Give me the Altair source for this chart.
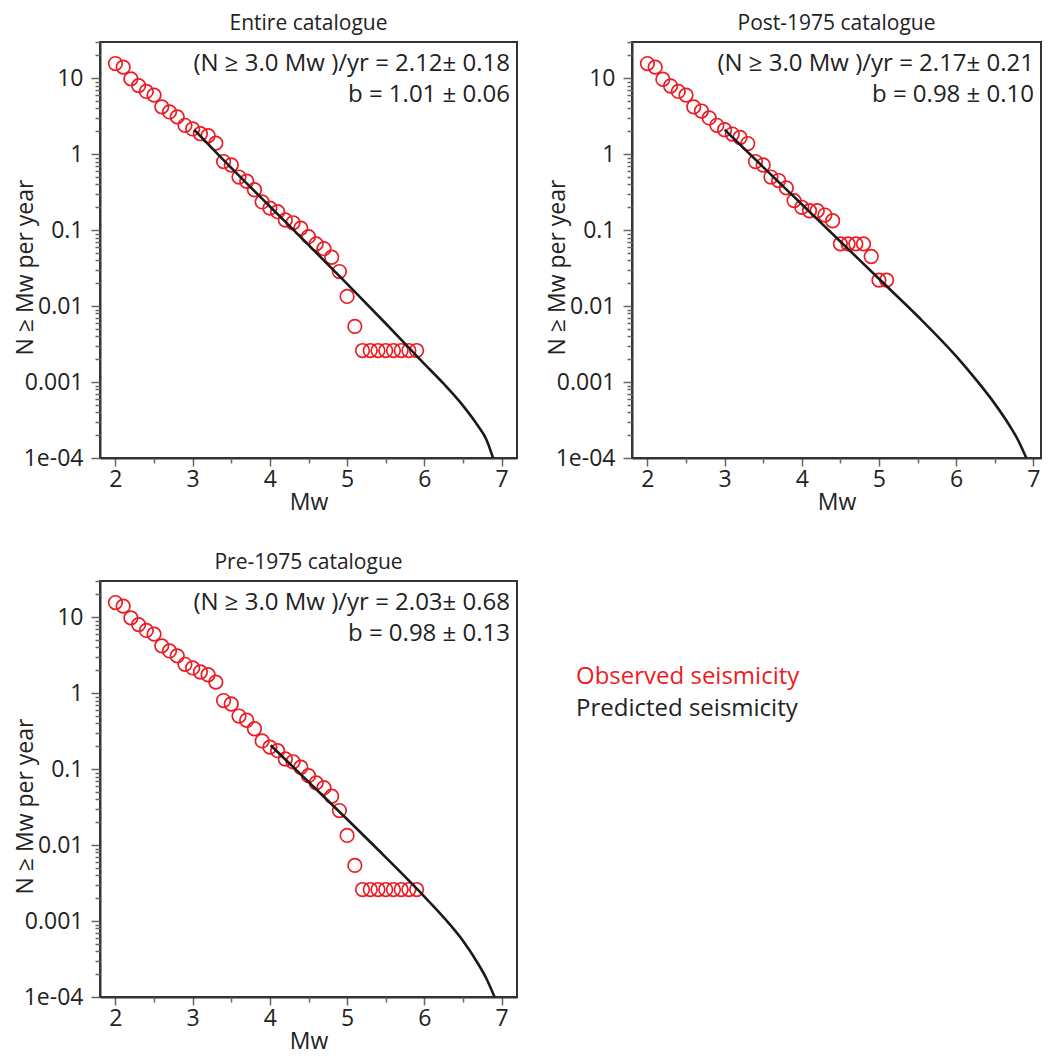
import altair as alt
import pandas as pd

FONT = "Open Sans"
RED = "#ed1c24"
INK = "#222222"

# ---------------- data ----------------
# Entire catalogue - observed cumulative rates
mw_entire = [2.0, 2.1, 2.2, 2.3, 2.4, 2.5, 2.6, 2.7, 2.8, 2.9,
             3.0, 3.1, 3.2, 3.3, 3.4, 3.5, 3.6, 3.7, 3.8, 3.9,
             4.0, 4.1, 4.2, 4.3, 4.4, 4.5, 4.6, 4.7, 4.8, 4.9,
             5.0, 5.1, 5.2, 5.3, 5.4, 5.5, 5.6, 5.7, 5.8, 5.9]
n_entire = [15.6, 14.0, 9.8, 8.0, 6.7, 6.0, 4.2, 3.6, 3.1, 2.4,
            2.15, 1.86, 1.75, 1.40, 0.80, 0.72, 0.50, 0.44, 0.34, 0.235,
            0.195, 0.175, 0.136, 0.125, 0.106, 0.082, 0.066, 0.057, 0.044, 0.0285,
            0.0134, 0.0054, 0.0026, 0.0026, 0.0026, 0.0026, 0.0026, 0.0026, 0.0026, 0.0026]
# Entire catalogue - predicted
mw_pred_entire = [3.02, 3.5, 4.0, 4.5, 5.0, 5.5, 6.0, 6.25, 6.5, 6.7, 6.8, 6.89]
n_pred_entire = [2.1, 0.66, 0.205, 0.064, 0.0196, 0.0059, 0.00174, 0.00095, 0.00049, 0.00026, 0.000178, 0.0001]

# Post-1975 catalogue - observed
mw_post = [2.0, 2.1, 2.2, 2.3, 2.4, 2.5, 2.6, 2.7, 2.8, 2.9,
           3.0, 3.1, 3.2, 3.3, 3.4, 3.5, 3.6, 3.7, 3.8, 3.9,
           4.0, 4.1, 4.2, 4.3, 4.4, 4.5, 4.6, 4.7, 4.8, 4.9,
           5.0, 5.1]
n_post = [15.6, 14.0, 9.7, 7.9, 6.7, 6.0, 4.2, 3.7, 3.0, 2.4,
          2.1, 1.84, 1.66, 1.38, 0.80, 0.72, 0.50, 0.45, 0.36, 0.245,
          0.20, 0.18, 0.18, 0.158, 0.133, 0.066, 0.066, 0.066, 0.066, 0.045,
          0.022, 0.022]
# Post-1975 catalogue - predicted
mw_pred_post = [3.0, 3.5, 4.0, 4.5, 5.0, 5.5, 6.0, 6.25, 6.5, 6.7, 6.8, 6.91]
n_pred_post = [2.1, 0.676, 0.219, 0.0708, 0.0229, 0.0074, 0.00219, 0.0011, 0.00052, 0.00026, 0.000174, 0.0001]

# Pre-1975 catalogue - observed
mw_pre = [2.0, 2.1, 2.2, 2.3, 2.4, 2.5, 2.6, 2.7, 2.8, 2.9,
          3.0, 3.1, 3.2, 3.3, 3.4, 3.5, 3.6, 3.7, 3.8, 3.9,
          4.0, 4.1, 4.2, 4.3, 4.4, 4.5, 4.6, 4.7, 4.8, 4.9,
          5.0, 5.1, 5.2, 5.3, 5.4, 5.5, 5.6, 5.7, 5.8, 5.9]
n_pre = [15.6, 14.0, 9.8, 8.0, 6.7, 6.0, 4.2, 3.6, 3.1, 2.4,
         2.15, 1.90, 1.75, 1.40, 0.80, 0.72, 0.50, 0.44, 0.34, 0.235,
         0.195, 0.175, 0.136, 0.125, 0.106, 0.082, 0.066, 0.057, 0.044, 0.0285,
         0.0134, 0.0054, 0.0026, 0.0026, 0.0026, 0.0026, 0.0026, 0.0026, 0.0026, 0.0026]
# Pre-1975 catalogue - predicted
mw_pred_pre = [4.01, 4.5, 5.0, 5.5, 6.0, 6.25, 6.5, 6.7, 6.8, 6.91]
n_pred_pre = [0.206, 0.068, 0.0219, 0.0069, 0.0021, 0.00112, 0.00055, 0.00027, 0.000178, 0.0001]

titles = ["Entire catalogue", "Post-1975 catalogue", "Pre-1975 catalogue"]
rate_texts = ["(N \u2265 3.0 Mw )/yr = 2.12\u00b1 0.18",
              "(N \u2265 3.0 Mw )/yr = 2.17\u00b1 0.21",
              "(N \u2265 3.0 Mw )/yr = 2.03\u00b1 0.68"]
b_texts = ["b = 1.01 \u00b1 0.06", "b = 0.98 \u00b1 0.10", "b = 0.98 \u00b1 0.13"]
legend_labels = ["Observed seismicity", "Predicted seismicity"]
legend_colors = [RED, INK]

# axis tick positions
X_MAJOR = [2, 3, 4, 5, 6, 7]
X_MINOR = [2.5, 3.5, 4.5, 5.5, 6.5]
Y_MAJOR = [1e-4, 1e-3, 1e-2, 1e-1, 1, 10]
Y_MINOR = [k * d for d in [1e-4, 1e-3, 1e-2, 1e-1, 1] for k in range(2, 10)] + [20, 30]

HEIGHT = 416
FS = 23


def text_layer(df, row, x, y, color, size, align):
    return alt.Chart(df).mark_text(
        align=align, baseline="alphabetic", fontSize=size, font=FONT, color=color
    ).encode(
        x=alt.value(x), y=alt.value(y), text="t:N"
    ).transform_filter(f"datum.row == {row}")


def panel(title, m_obs, n_obs, m_pred, n_pred, line1, line2, width, xmax, legend=False):
    xs = alt.Scale(domain=[1.8, xmax], nice=False, zero=False)
    ys = alt.Scale(type="log", domain=[1e-4, 30], nice=False)
    obs = pd.DataFrame({"Mw": m_obs, "N": n_obs})
    pred = pd.DataFrame({"Mw": m_pred, "N": n_pred})

    x_major = alt.Axis(values=X_MAJOR, format="d", title="Mw", tickSize=8,
                       orient="bottom", labelPadding=2, titlePadding=0)
    y_major = alt.Axis(values=Y_MAJOR, title="N \u2265 Mw per year", tickSize=9,
                       orient="left", labelPadding=8,
                       titleX=-68, titleY=225, titleAngle=270,
                       titleBaseline="alphabetic", titleAlign="center",
                       labelExpr="datum.value < 0.00015 ? '1e-04' : format(datum.value, '~g')")
    x_minor = alt.Axis(values=X_MINOR, labels=False, title=None, tickSize=5,
                       domain=False, orient="bottom")
    y_minor = alt.Axis(values=Y_MINOR, labels=False, title=None, tickSize=5,
                       domain=False, orient="left")

    points = alt.Chart(obs).mark_point(
        shape="circle", size=185, filled=False, color=RED, strokeWidth=1.7,
        opacity=1, clip=True
    ).encode(
        x=alt.X("Mw:Q", scale=xs, axis=x_major),
        y=alt.Y("N:Q", scale=ys, axis=y_major),
    )
    line = alt.Chart(pred).mark_line(
        color="#1a1a1a", strokeWidth=2.6, clip=True, interpolate="monotone"
    ).encode(
        x=alt.X("Mw:Q", scale=xs, axis=x_minor),
        y=alt.Y("N:Q", scale=ys, axis=y_minor),
    )
    ann = pd.DataFrame({"t": [line1, line2], "row": [0, 1]})
    layers = [points, line,
              text_layer(ann, 0, width - 7, 29, INK, 24, "right"),
              text_layer(ann, 1, width - 7, 60, INK, 24, "right")]
    if legend:
        leg = pd.DataFrame({"t": legend_labels, "row": [0, 1]})
        layers += [text_layer(leg, 0, width + 59, 103, legend_colors[0], 24, "left"),
                   text_layer(leg, 1, width + 59, 135, legend_colors[1], 24, "left")]
    return alt.layer(*layers).resolve_axis(x="independent", y="independent").properties(
        width=width, height=HEIGHT,
        title=alt.TitleParams(title, fontSize=21, font=FONT, fontWeight="normal",
                              color=INK, offset=7),
    )


p1 = panel(titles[0], mw_entire, n_entire, mw_pred_entire, n_pred_entire,
           rate_texts[0], b_texts[0], 417, 7.2)
p2 = panel(titles[1], mw_post, n_post, mw_pred_post, n_pred_post,
           rate_texts[1], b_texts[1], 409, 7.1)
p3 = panel(titles[2], mw_pre, n_pre, mw_pred_pre, n_pred_pre,
           rate_texts[2], b_texts[2], 417, 7.2, legend=True)

chart = alt.vconcat(
    alt.hconcat(p1, p2, spacing=27),
    p3,
    spacing=36,
).properties(
    padding={"left": 5, "top": 4, "right": 0, "bottom": 0}
).configure_view(
    stroke="#333333", strokeWidth=2
).configure_axis(
    labelFont=FONT, titleFont=FONT, labelFontSize=FS, titleFontSize=FS,
    labelColor=INK, titleColor=INK, domainColor="#333333", domainWidth=2,
    tickColor="#666666", tickWidth=1.5, grid=False, labelFontWeight="normal",
    titleFontWeight="normal"
)

chart.save("out.html", embed_options={"renderer": "svg", "actions": False})
